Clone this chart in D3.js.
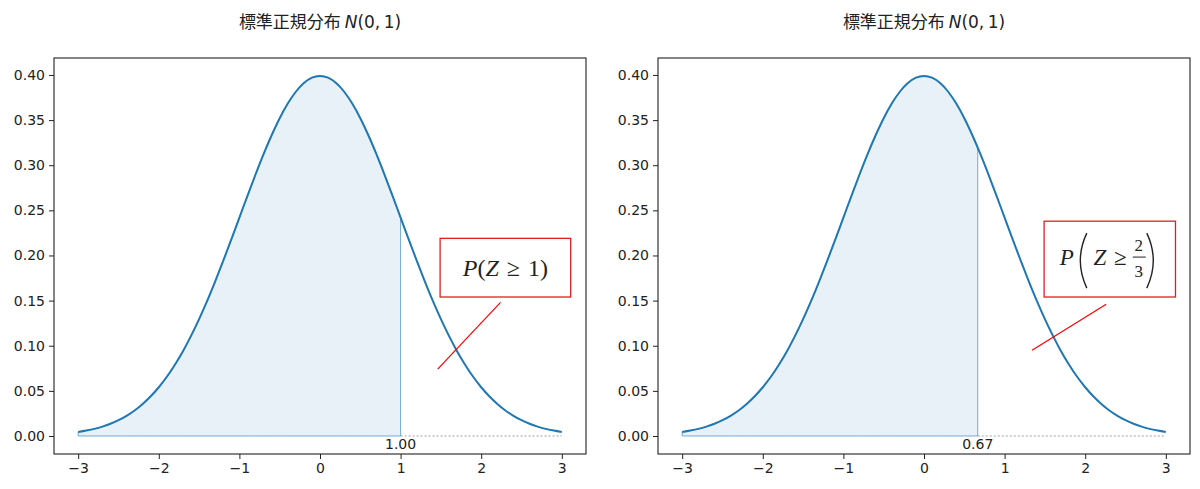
<!DOCTYPE html>
<html><head><meta charset="utf-8">
<script src="https://cdn.jsdelivr.net/npm/d3@7"></script>
<style>body{margin:0;background:#fff}</style>
</head><body>
<svg id="c" width="1200" height="489"></svg>
<script>
// ---- data ----
const xs = [-3.0,-2.9,-2.8,-2.7,-2.6,-2.5,-2.4,-2.3,-2.2,-2.1,-2.0,-1.9,-1.8,-1.7,-1.6,-1.5,-1.4,-1.3,-1.2,-1.1,-1.0,-0.9,-0.8,-0.7,-0.6,-0.5,-0.4,-0.3,-0.2,-0.1,0.0,0.1,0.2,0.3,0.4,0.5,0.6,0.7,0.8,0.9,1.0,1.1,1.2,1.3,1.4,1.5,1.6,1.7,1.8,1.9,2.0,2.1,2.2,2.3,2.4,2.5,2.6,2.7,2.8,2.9,3.0];
const density = [0.0044,0.0060,0.0079,0.0104,0.0136,0.0175,0.0224,0.0283,0.0355,0.0440,0.0540,0.0656,0.0790,0.0940,0.1109,0.1295,0.1497,0.1714,0.1942,0.2179,0.2420,0.2661,0.2897,0.3123,0.3332,0.3521,0.3683,0.3814,0.3910,0.3970,0.3989,0.3970,0.3910,0.3814,0.3683,0.3521,0.3332,0.3123,0.2897,0.2661,0.2420,0.2179,0.1942,0.1714,0.1497,0.1295,0.1109,0.0940,0.0790,0.0656,0.0540,0.0440,0.0355,0.0283,0.0224,0.0175,0.0136,0.0104,0.0079,0.0060,0.0044];
const cutoffs = [1.00, 0.6667];
const cutoffDensity = [0.2420, 0.3194];
const cutoffLabels = ["1.00", "0.67"];
const xTicks = [-3,-2,-1,0,1,2,3];
const yTicks = [0.00,0.05,0.10,0.15,0.20,0.25,0.30,0.35,0.40];
const titleText = "標準正規分布 ";
// annotation anchors in data coords: box [x0,x1,yTop,yBottom], line [xa,ya,xb,yb]
const annBoxes = [[1.49,3.11,0.219,0.154],[1.49,3.12,0.238,0.154]];
const annLines = [[2.24,0.148,1.46,0.074],[2.26,0.146,1.34,0.095]];

// ---- layout ----
const panels = [{left:54,right:586},{left:658,right:1190}];
const plotTop = 58, plotBottom = 454;
const blue = "#1f77b4";
const svg = d3.select("#c");
const sans = "'DejaVu Sans',sans-serif";
const serif = "'Liberation Serif','DejaVu Serif',serif";
const fmt = d => d < 0 ? "\u2212" + Math.abs(d) : String(d);

panels.forEach((p, i) => {
  const x = d3.scaleLinear().domain([-3.3, 3.3]).range([p.left, p.right]);
  const y = d3.scaleLinear().domain([-0.01995, 0.4188]).range([plotBottom, plotTop]);
  const g = svg.append("g");
  const pts = xs.map((v, k) => [v, density[k]]);

  // fill region
  const c = cutoffs[i];
  const fillPts = pts.filter(d => d[0] <= c + 1e-9);
  if (Math.abs(fillPts[fillPts.length-1][0] - c) > 1e-6) fillPts.push([c, cutoffDensity[i]]);
  const area = d3.area().x(d => x(d[0])).y0(y(0)).y1(d => y(d[1])).curve(d3.curveMonotoneX);
  g.append("path").attr("d", area(fillPts)).attr("fill", blue).attr("fill-opacity", 0.1)
    .attr("stroke", blue).attr("stroke-opacity", 0.6).attr("stroke-width", 1);

  // dotted baseline from cutoff to 3
  g.append("line").attr("x1", x(c)).attr("x2", x(3)).attr("y1", y(0)).attr("y2", y(0))
    .attr("stroke", "#999").attr("stroke-width", 0.9).attr("stroke-dasharray", "2,2");

  // curve
  const line = d3.line().x(d => x(d[0])).y(d => y(d[1])).curve(d3.curveMonotoneX);
  g.append("path").attr("d", line(pts)).attr("fill", "none").attr("stroke", blue).attr("stroke-width", 2);

  // cutoff label
  g.append("text").attr("x", x(c)).attr("y", y(0) + 13.5).attr("text-anchor", "middle")
    .attr("font-family", sans).attr("font-size", 14).attr("fill", "#222").text(cutoffLabels[i]);

  // axes
  const xAxis = d3.axisBottom(x).tickValues(xTicks).tickFormat(fmt).tickSize(5).tickPadding(4);
  const yAxis = d3.axisLeft(y).tickValues(yTicks).tickFormat(d3.format(".2f")).tickSize(5).tickPadding(4);
  const gx = g.append("g").attr("transform", `translate(0,${plotBottom})`).call(xAxis);
  const gy = g.append("g").attr("transform", `translate(${p.left},0)`).call(yAxis);
  [gx, gy].forEach(a => {
    a.select(".domain").remove();
    a.selectAll("line").attr("stroke", "#222").attr("stroke-width", 1);
    a.selectAll("text").attr("font-family", sans).attr("font-size", 14).attr("fill", "#222");
  });
  g.append("rect").attr("x", p.left).attr("y", plotTop).attr("width", p.right - p.left).attr("height", plotBottom - plotTop)
    .attr("fill", "none").attr("stroke", "#222").attr("stroke-width", 1.1);

  // title
  const t = svg.append("text").attr("x", x(0)).attr("y", 28).attr("text-anchor", "middle")
    .attr("font-size", 17).attr("fill", "#222");
  t.append("tspan").attr("font-family", "'Noto Sans CJK JP',sans-serif").text(titleText);
  t.append("tspan").attr("font-family", "'DejaVu Sans',sans-serif").attr("font-style", "italic").text("N");
  t.append("tspan").attr("font-family", "'DejaVu Sans',sans-serif").text("(0,\u20091)");

  // annotation
  const b = annBoxes[i], l = annLines[i];
  g.append("line").attr("x1", x(l[0])).attr("y1", y(l[1])).attr("x2", x(l[2])).attr("y2", y(l[3]))
    .attr("stroke", "red").attr("stroke-width", 1.2);
  g.append("rect").attr("x", x(b[0])).attr("y", y(b[2])).attr("width", x(b[1]) - x(b[0])).attr("height", y(b[3]) - y(b[2]))
    .attr("fill", "#fff").attr("stroke", "#e02020").attr("stroke-width", 1.3);
  const cx = (x(b[0]) + x(b[1])) / 2, cy = (y(b[2]) + y(b[3])) / 2;
  const mg = g.append("g").attr("transform", `translate(${cx},${cy})`).attr("fill", "#222")
    .attr("font-family", serif);
  if (i === 0) {
    const tt = mg.append("text").attr("x", 0).attr("y", 8).attr("text-anchor", "middle").attr("font-size", 24);
    tt.append("tspan").attr("font-style", "italic").text("P");
    tt.append("tspan").text("(");
    tt.append("tspan").attr("font-style", "italic").text("Z");
    tt.append("tspan").text("\u2004\u2265\u2004");
    tt.append("tspan").text("1)");
  } else {
    mg.append("text").attr("x", -43).attr("y", 6).attr("text-anchor", "middle").attr("font-size", 23)
      .attr("font-style", "italic").text("P");
    mg.append("path").attr("d", "M-23,-26 Q-36,1.5 -23,29").attr("fill", "none").attr("stroke", "#222").attr("stroke-width", 1.4);
    mg.append("text").attr("x", -10).attr("y", 6).attr("text-anchor", "middle").attr("font-size", 23)
      .attr("font-style", "italic").text("Z");
    mg.append("text").attr("x", 10.5).attr("y", 6).attr("text-anchor", "middle").attr("font-size", 23).text("\u2265");
    mg.append("text").attr("x", 29).attr("y", -8).attr("text-anchor", "middle").attr("font-size", 17).text("2");
    mg.append("line").attr("x1", 23).attr("x2", 36).attr("y1", -2).attr("y2", -2).attr("stroke", "#222").attr("stroke-width", 1);
    mg.append("text").attr("x", 29).attr("y", 18).attr("text-anchor", "middle").attr("font-size", 17).text("3");
    mg.append("path").attr("d", "M37,-26 Q50,1.5 37,29").attr("fill", "none").attr("stroke", "#222").attr("stroke-width", 1.4);
  }
});
</script>
</body></html>
